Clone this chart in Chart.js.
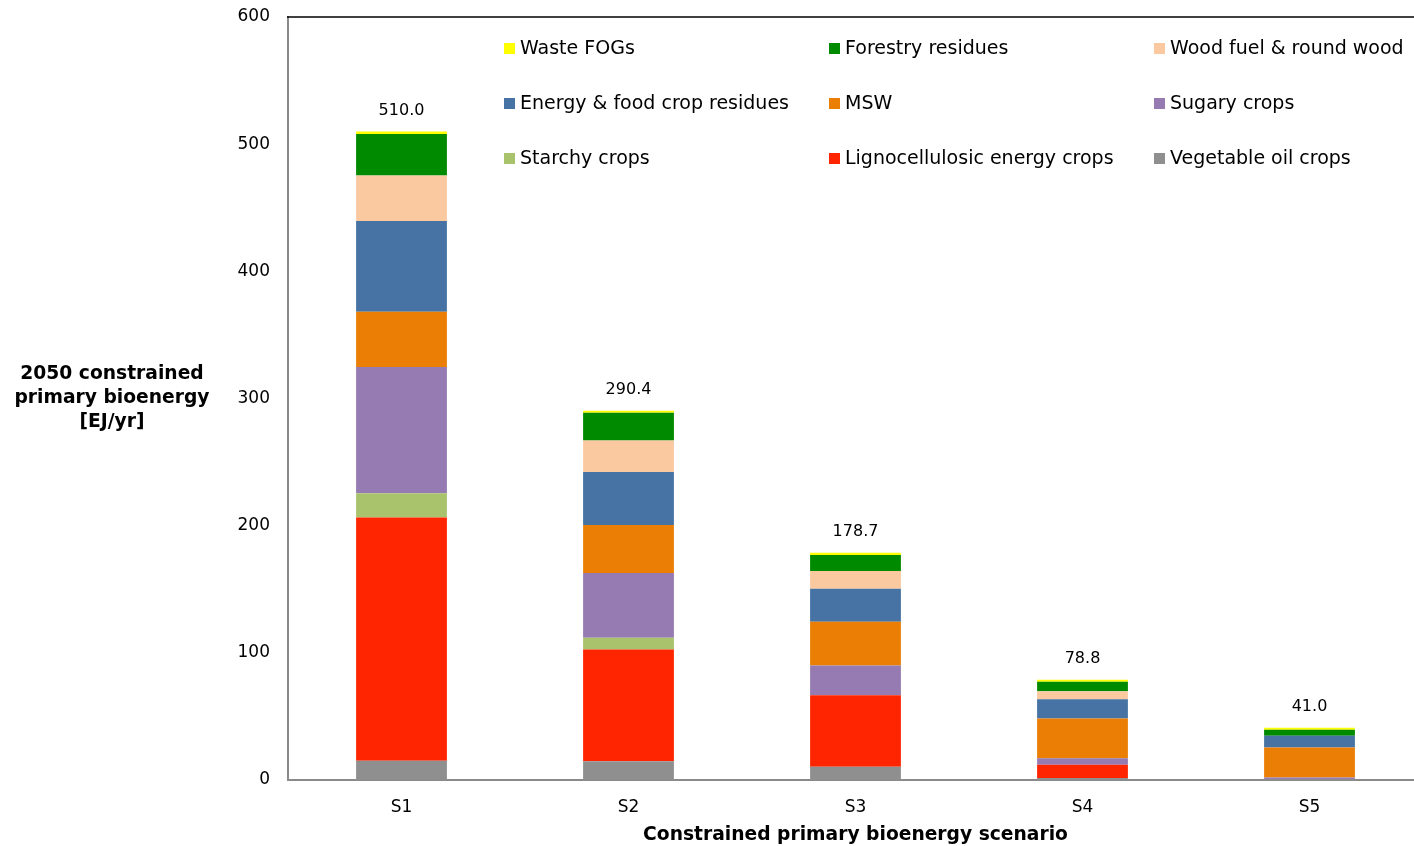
<!DOCTYPE html>
<html>
  <head>
    <script src="https://cdn.jsdelivr.net/npm/chart.js@4/dist/chart.umd.min.js"></script>
    <style>
      body { margin: 0; overflow: hidden; background: #fff; }
      #wrap { width: 1423px; height: 846px; position: relative; }
    </style>
  </head>
  <body>
    <div id="wrap"><canvas id="myChart"></canvas></div>

    <script>
      // Scenario categories and printed totals
      var categories = ["S1", "S2", "S3", "S4", "S5"];
      var totals = ["510.0", "290.4", "178.7", "78.8", "41.0"];

      // Series values, bottom of stack first (EJ/yr)
      var vegetableOil = [15.2, 14.8, 10.5, 1.5, 0.5];
      var lignocellulosic = [191.3, 87.8, 56.2, 10.5, 0];
      var starchy = [18.9, 9.2, 0, 0, 0];
      var sugary = [99.3, 50.9, 23.3, 5.1, 1.5];
      var msw = [43.5, 37.8, 34.4, 31.2, 23.6];
      var energyFood = [71.4, 41.8, 26.0, 15.2, 9.2];
      var woodFuel = [35.8, 24.6, 13.9, 6.3, 0];
      var forestry = [32.5, 21.8, 12.6, 7.4, 4.8];
      var wasteFogs = [2.1, 1.7, 1.8, 1.6, 1.4];

      var yTicks = [0, 100, 200, 300, 400, 500, 600];

      var FONT = "'DejaVu Sans', Verdana, sans-serif";

      var series = [
        { label: "Vegetable oil crops", data: vegetableOil, color: "#8f8f8f" },
        { label: "Lignocellulosic energy crops", data: lignocellulosic, color: "#ff2500" },
        { label: "Starchy crops", data: starchy, color: "#a9c36d" },
        { label: "Sugary crops", data: sugary, color: "#957bb1" },
        { label: "MSW", data: msw, color: "#eb7f05" },
        { label: "Energy & food crop residues", data: energyFood, color: "#4673a3" },
        { label: "Wood fuel & round wood", data: woodFuel, color: "#fbc9a0" },
        { label: "Forestry residues", data: forestry, color: "#008a00" },
        { label: "Waste FOGs", data: wasteFogs, color: "#ffff00" },
      ];

      // Legend grid, totals and axis title drawn on the canvas
      var extras = {
        id: "extras",
        afterDraw: function (chart) {
          var ctx = chart.ctx;
          var area = chart.chartArea;
          ctx.save();

          // top border of plot area
          ctx.strokeStyle = "#000";
          ctx.lineWidth = 1.5;
          ctx.beginPath();
          ctx.moveTo(area.left - 1, area.top);
          ctx.lineTo(area.right, area.top);
          ctx.stroke();

          // legend: reversed order, 3 columns
          var ds = chart.data.datasets.slice().reverse();
          ctx.font = "19px " + FONT;
          ctx.textBaseline = "middle";
          ctx.textAlign = "left";
          ds.forEach(function (d, i) {
            var col = i % 3, row = Math.floor(i / 3);
            var x = area.left + 216 + col * 325;
            var y = area.top + 32 + row * 55;
            ctx.fillStyle = d.backgroundColor;
            ctx.fillRect(x, y - 6, 11, 11);
            ctx.fillStyle = "#000";
            ctx.fillText(d.label, x + 16, y);
          });

          // totals above bars
          var yScale = chart.scales.y;
          var xScale = chart.scales.x;
          ctx.font = "16px " + FONT;
          ctx.textAlign = "center";
          categories.forEach(function (c, i) {
            var sum = 0;
            chart.data.datasets.forEach(function (d) { sum += d.data[i]; });
            ctx.fillText(totals[i], xScale.getPixelForValue(i), yScale.getPixelForValue(sum) - 21);
          });

          // y axis title (horizontal, 3 lines)
          ctx.font = "bold 18.7px " + FONT;
          var lines = ["2050 constrained", "primary bioenergy", "[EJ/yr]"];
          var cy = yScale.getPixelForValue(300);
          lines.forEach(function (t, k) {
            ctx.fillText(t, 112, cy + (k - 1) * 24);
          });
          ctx.restore();
        },
      };

      var ctx = document.getElementById("myChart").getContext("2d");
      var myChart = new Chart(ctx, {
        type: "bar",
        data: {
          labels: categories,
          datasets: series.map(function (s) {
            return {
              label: s.label,
              data: s.data,
              backgroundColor: s.color,
              borderWidth: 0,
              categoryPercentage: 1,
              barPercentage: 0.4,
            };
          }),
        },
        options: {
          responsive: true,
          maintainAspectRatio: false,
          animation: false,
          layout: { padding: { top: 17, left: 0, right: 0, bottom: 0 } },
          plugins: {
            legend: { display: false },
            tooltip: { enabled: false },
          },
          scales: {
            x: {
              stacked: true,
              grid: { display: false, drawTicks: false },
              border: { color: "#8a8a8a", width: 2 },
              ticks: { color: "#000", font: { family: FONT, size: 17 }, padding: 17 },
              title: {
                display: true,
                text: "Constrained primary bioenergy scenario",
                color: "#000",
                font: { family: FONT, size: 18.7, weight: "bold" },
                padding: { top: 0, bottom: 0 },
              },
              afterFit: function (scale) {
                scale.height = 66;
                scale.paddingLeft = 0;
                scale.paddingRight = 0;
              },
            },
            y: {
              stacked: true,
              min: 0,
              max: 600,
              afterBuildTicks: function (scale) {
                scale.ticks = yTicks.map(function (v) { return { value: v }; });
              },
              grid: { display: false, drawTicks: false },
              border: { color: "#8a8a8a", width: 2 },
              ticks: { color: "#000", font: { family: FONT, size: 17 }, padding: 18 },
              afterFit: function (scale) {
                scale.width = 288;
                scale.paddingTop = 0;
                scale.paddingBottom = 0;
              },
            },
          },
        },
        plugins: [extras],
      });
    </script>
  </body>
</html>
